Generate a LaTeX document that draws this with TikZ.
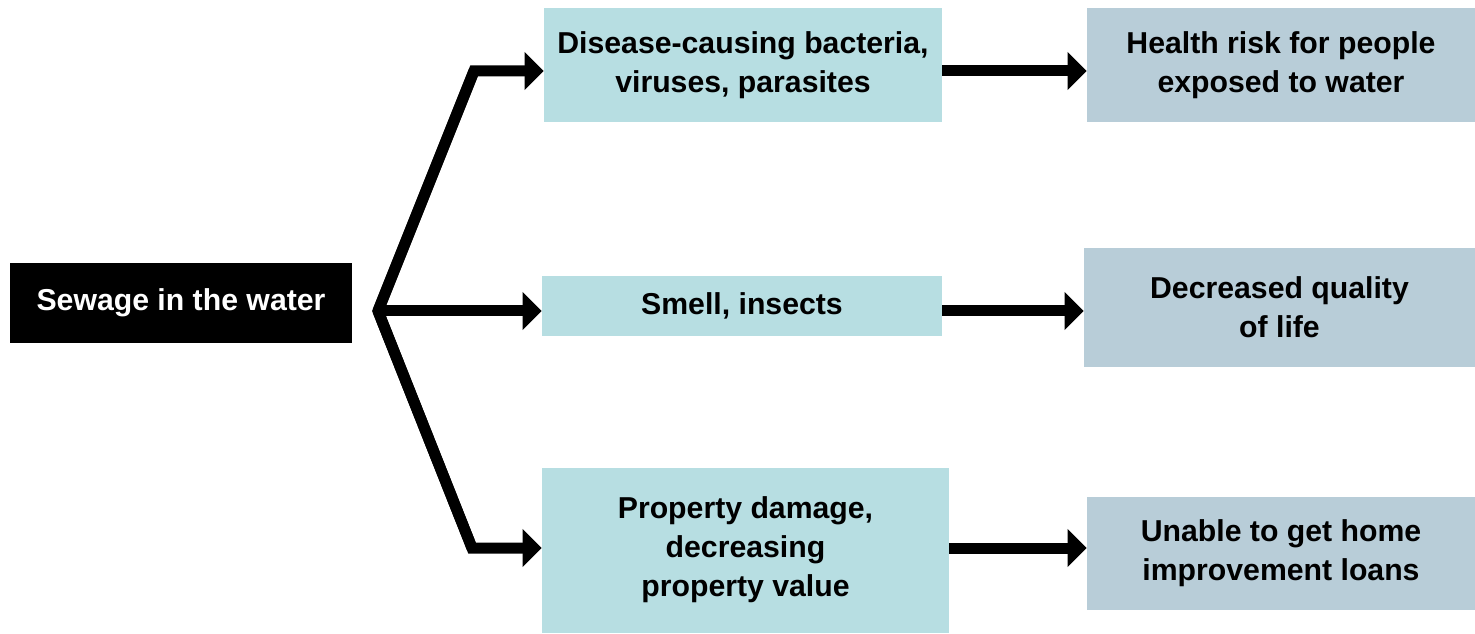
\documentclass[tikz,border=0pt]{standalone}
\usepackage{fontspec}
\setmainfont{Liberation Sans}
\usepackage{tikz}
\usepackage{xcolor}
\usetikzlibrary{arrows.meta}
\definecolor{sewagecyan}{RGB}{183,222,226}
\definecolor{sewagegray}{RGB}{184,205,216}

\begin{document}
\begin{tikzpicture}[
    source/.style={rectangle, fill=black, text=white, font=\bfseries\fontsize{17.2}{22.2}\selectfont, text centered, minimum width=6.84cm, minimum height=1.6cm},
    effect/.style={rectangle, fill=sewagecyan, font=\bfseries\fontsize{17.2}{22.2}\selectfont, align=center, inner sep=0pt},
    impact/.style={rectangle, fill=sewagegray, font=\bfseries\fontsize{17.2}{22.2}\selectfont, align=center, inner sep=0pt},
    flow/.style={line width=0.22cm, line join=miter, -{Triangle[length=0.38cm, width=0.74cm]}},
    trunk/.style={line width=0.22cm, line join=miter}
]
\useasboundingbox (0,0) rectangle (29.5,-12.68);

% Main blocks
\node[source] (sewage) at (3.62,-6.06) {Sewage in the water};

% Effects
\node[effect, minimum width=7.96cm, minimum height=2.28cm] (disease) at (14.86,-1.30) {Disease-causing bacteria,\\viruses, parasites};
\node[effect, minimum width=8.0cm, minimum height=1.2cm] (smell) at (14.84,-6.12) {Smell, insects};
\node[effect, minimum width=8.14cm, minimum height=3.3cm] (damage) at (14.91,-11.0) {Property damage,\\decreasing\\property value};

% Impacts
\node[impact, minimum width=7.76cm, minimum height=2.28cm] (health) at (25.62,-1.30) {Health risk for people\\exposed to water};
\node[impact, minimum width=7.82cm, minimum height=2.38cm] (quality) at (25.59,-6.15) {Decreased quality\\of life};
\node[impact, minimum width=7.76cm, minimum height=2.26cm] (loans) at (25.62,-11.07) {Unable to get home\\improvement loans};

% Branch points
\coordinate (split) at (7.56,-6.22);
\coordinate (upbend) at (9.48,-1.42);
\coordinate (lowbend) at (9.44,-10.96);

% Arrows
\draw[trunk] (upbend) -- (split) -- (lowbend);
\draw[flow] (split) -- (upbend) -- (upbend -| disease.west);
\draw[flow] (split) -- (split -| smell.west);
\draw[flow] (split) -- (lowbend) -- (lowbend -| damage.west);
\draw[flow] (disease.east |- upbend) -- (upbend -| health.west);
\draw[flow] (smell.east |- split) -- (split -| quality.west);
\draw[flow] (damage.east |- lowbend) -- (lowbend -| loans.west);

\end{tikzpicture}
\end{document}
